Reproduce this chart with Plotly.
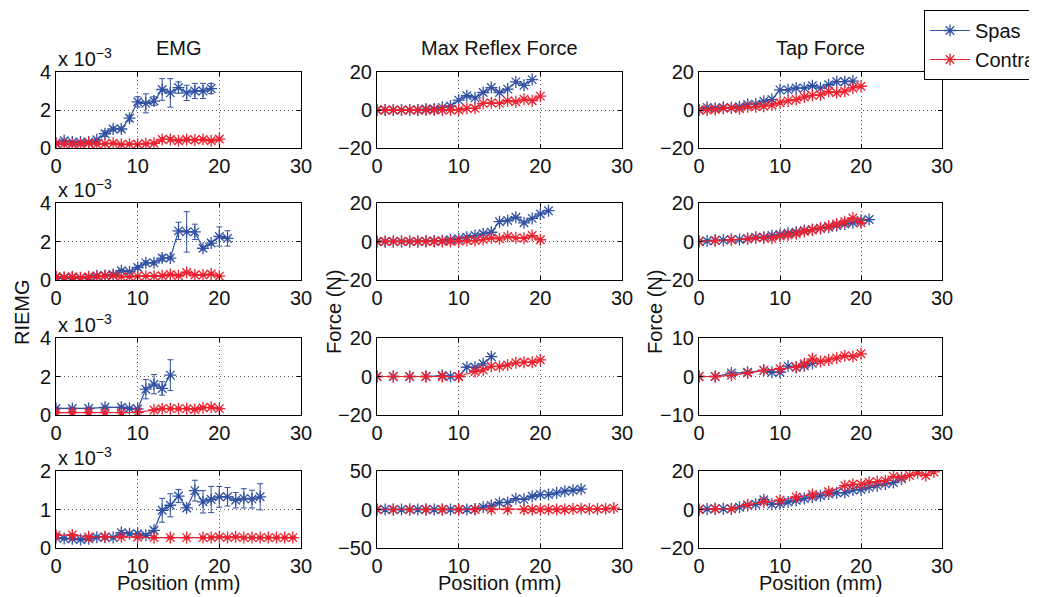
import plotly.graph_objects as go

# ---------------- data ----------------
X0_19 = [0, 1, 2, 3, 4, 5, 6, 7, 8, 9, 10, 11, 12, 13, 14, 15, 16, 17, 18, 19]
X0_20 = [0, 1, 2, 3, 4, 5, 6, 7, 8, 9, 10, 11, 12, 13, 14, 15, 16, 17, 18, 19, 20]
X0_21 = [0, 1, 2, 3, 4, 5, 6, 7, 8, 9, 10, 11, 12, 13, 14, 15, 16, 17, 18, 19, 20, 21]
X0_25 = [0, 1, 2, 3, 4, 5, 6, 7, 8, 9, 10, 11, 12, 13, 14, 15, 16, 17, 18, 19, 20, 21, 22, 23, 24, 25]
X_S3 = [0, 2, 4, 6, 8, 9, 10, 11, 12, 13, 14]
X_C3 = [0, 2, 4, 6, 8, 10, 12, 13, 14, 15, 16, 17, 18, 19, 20]
X_C4 = [0, 2, 4, 6, 8, 10, 12, 14, 16, 18, 19, 20, 21, 22, 23, 24, 25, 26, 27, 28, 29]
X_C2T = [0, 2, 4, 6, 7, 8, 9, 10, 11, 12, 13, 14, 15, 16, 17, 18, 19, 20]

# EMG (units of 1e-3)
emg1_spas = [0.26, 0.38, 0.31, 0.31, 0.31, 0.43, 0.75, 1.0, 1.0, 1.57, 2.43, 2.35, 2.47, 3.08, 2.9, 3.18, 2.9, 3.0, 3.0, 3.13]
emg1_spas_err = [0.05, 0.05, 0.05, 0.05, 0.05, 0.06, 0.15, 0.1, 0.1, 0.15, 0.27, 0.5, 0.22, 0.57, 0.75, 0.3, 0.4, 0.4, 0.4, 0.27]
emg1_contra = [0.22, 0.2, 0.2, 0.2, 0.25, 0.2, 0.22, 0.25, 0.18, 0.2, 0.2, 0.22, 0.25, 0.45, 0.45, 0.38, 0.45, 0.42, 0.45, 0.38, 0.47]
emg1_contra_err = [0.05, 0.05, 0.05, 0.05, 0.05, 0.05, 0.05, 0.05, 0.05, 0.05, 0.05, 0.05, 0.05, 0.1, 0.08, 0.05, 0.06, 0.05, 0.06, 0.05, 0.08]

emg2_spas = [0.14, 0.09, 0.12, 0.09, 0.12, 0.22, 0.22, 0.29, 0.48, 0.43, 0.65, 0.89, 0.89, 1.14, 1.14, 2.55, 2.5, 2.5, 1.65, 1.92, 2.26, 2.16]
emg2_spas_err = [0.03, 0.03, 0.03, 0.03, 0.03, 0.04, 0.05, 0.05, 0.07, 0.05, 0.1, 0.1, 0.1, 0.15, 0.08, 0.45, 1.05, 0.4, 0.1, 0.1, 0.5, 0.4]
emg2_contra = [0.17, 0.14, 0.17, 0.12, 0.17, 0.17, 0.22, 0.22, 0.17, 0.17, 0.2, 0.2, 0.2, 0.22, 0.29, 0.22, 0.39, 0.26, 0.26, 0.31, 0.2]
emg2_contra_err = [0.05, 0.03, 0.05, 0.03, 0.04, 0.03, 0.05, 0.04, 0.03, 0.03, 0.03, 0.03, 0.03, 0.04, 0.05, 0.04, 0.06, 0.04, 0.04, 0.06, 0.04]

emg3_spas = [0.34, 0.34, 0.34, 0.4, 0.4, 0.34, 0.31, 1.34, 1.6, 1.38, 2.07]
emg3_spas_err = [0.05, 0.05, 0.05, 0.06, 0.06, 0.05, 0.05, 0.5, 0.5, 0.35, 0.8]
emg3_contra = [0.12, 0.12, 0.12, 0.12, 0.12, 0.14, 0.26, 0.33, 0.33, 0.33, 0.33, 0.29, 0.38, 0.4, 0.33]
emg3_contra_err = [0.03, 0.03, 0.03, 0.03, 0.03, 0.03, 0.04, 0.05, 0.05, 0.05, 0.05, 0.05, 0.06, 0.06, 0.05]

emg4_spas = [0.27, 0.25, 0.24, 0.22, 0.24, 0.28, 0.28, 0.27, 0.4, 0.37, 0.37, 0.33, 0.46, 0.98, 1.11, 1.35, 1.04, 1.49, 1.2, 1.26, 1.33, 1.33, 1.24, 1.29, 1.27, 1.33]
emg4_spas_err = [0.03, 0.03, 0.04, 0.03, 0.04, 0.03, 0.05, 0.03, 0.05, 0.04, 0.05, 0.04, 0.05, 0.31, 0.3, 0.17, 0.05, 0.27, 0.29, 0.34, 0.27, 0.24, 0.2, 0.25, 0.23, 0.34]
emg4_contra = [0.33, 0.34, 0.29, 0.29, 0.29, 0.28, 0.27, 0.27, 0.27, 0.27, 0.27, 0.29, 0.27, 0.29, 0.27, 0.27, 0.27, 0.27, 0.27, 0.27, 0.27]
emg4_contra_err = [0.04, 0.04, 0.03, 0.03, 0.03, 0.03, 0.03, 0.03, 0.03, 0.03, 0.03, 0.03, 0.03, 0.03, 0.03, 0.03, 0.03, 0.03, 0.03, 0.03, 0.03]

# Max reflex force (N)
mrf1_spas = [0, 0, 0, 0, 0, 0, 0.5, 0.5, 1.4, 2.1, 5.2, 7.5, 6.4, 9.2, 11.8, 9.2, 11.0, 14.8, 13.0, 16.0]
mrf1_contra = [0, 0, 0, 0, 0, 0, 0, 0, 0, 0, 0, 0.9, 0.9, 3.5, 3.8, 3.5, 4.9, 4.3, 5.7, 4.9, 7.3]
mrf2_spas = [0, 0, 0, 0, 0, 0, 0.2, 0.3, 0.4, 0.9, 1.4, 2.2, 3.1, 4.0, 4.8, 10.3, 10.9, 12.6, 9.7, 12.0, 14.3, 16.0]
mrf2_contra = [0, 0, 0, 0, 0, 0, 0, 0, 0, 0, 0.2, 0.5, 0.5, 1.0, 1.9, 1.4, 2.6, 1.9, 1.7, 3.1, 0.9]
mrf3_spas = [0, 0, 0, 0, 0.5, 0, 0, 4.8, 4.8, 6.6, 10.3]
mrf3_contra = [0, 0, 0, 0, 0, 0, 2.6, 3.4, 5.3, 5.2, 6.0, 7.1, 7.4, 7.4, 8.6]
mrf4_spas = [0, 0, 0, 0, 0, 0, 0, 0, 0, 0, 0, 0, 0.5, 3.0, 5.3, 8.8, 9.2, 14.0, 13.2, 17.2, 19.4, 19.4, 21.6, 23.8, 25.0, 26.4]
mrf4_contra = [0, 0, 0, 0, 0, 0, 0, 0, 0, 0, 0, 0, 0, 0, 0, 0.5, 0.9, 0.5, 0.5, 0.9, 1.8]

# Tap force (N)
tap1_spas = [0, 1.4, 0.9, 1.4, 1.2, 1.7, 2.9, 3.1, 4.6, 5.5, 10.6, 10.6, 11.6, 11.5, 12.8, 11.5, 13.3, 14.9, 14.9, 15.2]
tap1_contra = [0, 0, 0.3, 0.9, 1.2, 0.7, 1.7, 1.7, 2.0, 2.6, 3.8, 4.8, 5.5, 6.8, 7.7, 8.0, 9.7, 9.1, 9.9, 11.6, 12.5]
tap2_spas = [0, 0.3, 0.7, 0.7, 1.0, 1.0, 1.4, 2.2, 2.2, 3.1, 3.6, 4.3, 4.8, 5.7, 6.2, 6.9, 7.4, 8.3, 9.1, 9.7, 10.9, 11.4]
tap2_contra = [0, 0.5, 0.9, 1.4, 1.9, 1.9, 1.7, 2.8, 3.4, 4.0, 5.2, 6.0, 6.9, 7.9, 9.1, 10.3, 12.2, 9.7]
tap3_spas = [0, 0, 0.9, 1.1, 1.6, 1.1, 1.1, 2.7, 2.4, 2.8, 3.4]
tap3_contra = [0, 0, 0.3, 0.9, 1.6, 2.0, 2.4, 3.3, 4.6, 3.9, 4.3, 4.8, 5.4, 5.2, 5.9]
tap4_spas = [0, 0.3, 0.4, 0.4, 0.4, 1.2, 2.1, 2.7, 5.1, 2.7, 3.0, 3.9, 4.8, 5.7, 6.5, 7.1, 8.0, 8.7, 8.8, 10.1, 10.4, 11.5, 12.4, 13.3, 14.0, 15.9]
tap4_contra = [0, 0.4, 0.4, 2.5, 3.9, 4.8, 6.5, 7.8, 9.2, 12.4, 13.1, 13.1, 14.2, 14.5, 15.0, 17.2, 16.6, 17.7, 19.0, 17.7, 19.5]

col_titles = ["EMG", "Max Reflex Force", "Tap Force"]
series_names = ["Spas", "Contra"]
x_ticks = [0, 10, 20, 30]
y_ticks = [
    [[0, 2, 4], [-20, 0, 20], [-20, 0, 20]],
    [[0, 2, 4], [-20, 0, 20], [-20, 0, 20]],
    [[0, 2, 4], [-20, 0, 20], [-10, 0, 10]],
    [[0, 1, 2], [-50, 0, 50], [-20, 0, 20]],
]

panels = {
    (0, 0): (X0_19, emg1_spas, emg1_spas_err, X0_20, emg1_contra, emg1_contra_err),
    (1, 0): (X0_21, emg2_spas, emg2_spas_err, X0_20, emg2_contra, emg2_contra_err),
    (2, 0): (X_S3, emg3_spas, emg3_spas_err, X_C3, emg3_contra, emg3_contra_err),
    (3, 0): (X0_25, emg4_spas, emg4_spas_err, X_C4, emg4_contra, emg4_contra_err),
    (0, 1): (X0_19, mrf1_spas, None, X0_20, mrf1_contra, None),
    (1, 1): (X0_21, mrf2_spas, None, X0_20, mrf2_contra, None),
    (2, 1): (X_S3, mrf3_spas, None, X_C3, mrf3_contra, None),
    (3, 1): (X0_25, mrf4_spas, None, X_C4, mrf4_contra, None),
    (0, 2): (X0_19, tap1_spas, None, X0_20, tap1_contra, None),
    (1, 2): (X0_21, tap2_spas, None, X_C2T, tap2_contra, None),
    (2, 2): (X_S3, tap3_spas, None, X_C3, tap3_contra, None),
    (3, 2): (X0_25, tap4_spas, None, X_C4, tap4_contra, None),
}

# ---------------- layout ----------------
PAGE_W, PAGE_H = 1037, 597
OFF = 8  # default body margin of the page
FW, FH = PAGE_W - OFF, PAGE_H - OFF


def px(xp):
    return (xp - OFF) / FW


def py(yp):
    return 1 - (yp - OFF) / FH


FONT = "Liberation Sans, Arial, Helvetica, sans-serif"
FS = 20
BLUE = "#3050a2"
RED = "#ec2230"
col_px = [(56, 301), (377, 622), (699, 942)]
row_px = [(72, 148), (203, 280), (338, 415), (471, 548)]

fig = go.Figure()
annotations = []
layout_axes = {}

for r in range(4):
    for c in range(3):
        idx = r * 3 + c + 1
        sfx = "" if idx == 1 else str(idx)
        xs, ys, es, xc, yc, ec = panels[(r, c)]
        for (xx, yy, ee, color, name) in ((xs, ys, es, BLUE, series_names[0]),
                                           (xc, yc, ec, RED, series_names[1])):
            tr = go.Scatter(
                x=xx, y=yy, mode="lines+markers", name=name,
                line=dict(color=color, width=1.2),
                marker=dict(symbol="asterisk-open", size=10, color=color,
                            line=dict(color=color, width=1.3)),
                showlegend=(idx == 1),
                xaxis="x" + sfx, yaxis="y" + sfx,
            )
            if ee is not None:
                tr.error_y = dict(type="data", array=ee, visible=True,
                                  color=color, thickness=1, width=3)
            fig.add_trace(tr)
        x0, x1 = col_px[c]
        y0, y1 = row_px[r]
        yt = y_ticks[r][c]
        common = dict(showline=True, linecolor="black", linewidth=1, mirror="ticks",
                      ticks="inside", ticklen=4, tickcolor="black",
                      showgrid=True, gridcolor="#555555", griddash="1px,3px", gridwidth=1,
                      zeroline=False, tickfont=dict(family=FONT, size=FS, color="#111111"))
        layout_axes["xaxis" + sfx] = dict(domain=[px(x0), px(x1)], range=[0, 30],
                                          tickvals=x_ticks, anchor="y" + sfx, **common)
        layout_axes["yaxis" + sfx] = dict(domain=[py(y1), py(y0)],
                                          range=[yt[0], yt[-1]], tickvals=yt,
                                          anchor="x" + sfx, **common)
        if c == 0:
            annotations.append(dict(
                text="x 10<sup>−3</sup>", x=px(x0), y=py(y0), xref="paper", yref="paper",
                xanchor="left", yanchor="bottom", yshift=0, showarrow=False,
                font=dict(family=FONT, size=FS, color="#111111")))

for c, t in enumerate(col_titles):
    x0, x1 = col_px[c]
    annotations.append(dict(text=t, x=px((x0 + x1) / 2), y=py(48), xref="paper", yref="paper",
                            xanchor="center", yanchor="middle", showarrow=False,
                            font=dict(family=FONT, size=FS, color="#111111")))
    annotations.append(dict(text="Position (mm)", x=px((x0 + x1) / 2), y=py(583),
                            xref="paper", yref="paper", xanchor="center", yanchor="middle",
                            showarrow=False, font=dict(family=FONT, size=FS, color="#111111")))

for xpx, t in ((22, "RIEMG"), (334, "Force (N)"), (655, "Force (N)")):
    annotations.append(dict(text=t, x=px(xpx), y=py(312), xref="paper", yref="paper",
                            xanchor="center", yanchor="middle", textangle=-90, showarrow=False,
                            font=dict(family=FONT, size=FS, color="#111111")))

fig.update_layout(
    width=FW, height=FH,
    margin=dict(l=0, r=0, t=0, b=0, autoexpand=False),
    paper_bgcolor="white", plot_bgcolor="white",
    font=dict(family=FONT, size=FS, color="#111111"),
    annotations=annotations,
    legend=dict(x=px(924), y=py(10), xanchor="left", yanchor="top",
                bgcolor="white", bordercolor="black", borderwidth=1,
                font=dict(family=FONT, size=FS, color="#111111"),
                itemwidth=40, tracegroupgap=0, entrywidth=140, entrywidthmode="pixels"),
    **layout_axes,
)

fig.write_html("out.html")
